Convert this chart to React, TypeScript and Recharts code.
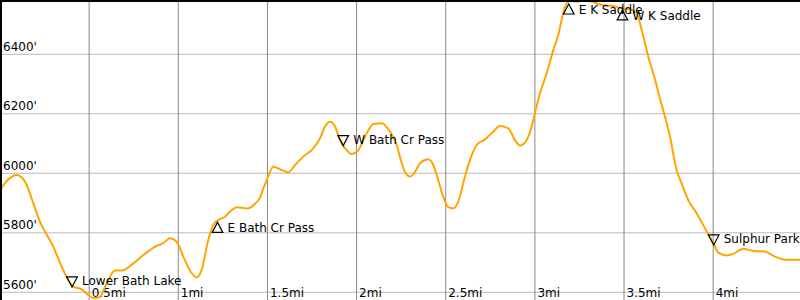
import { LineChart, Line, XAxis, YAxis, ReferenceLine, ReferenceDot } from "recharts";

// distance along trail (mi) and elevation (ft)
const miles = [
  0, 0.045, 0.094, 0.14, 0.187, 0.224, 0.252, 0.299, 0.346, 0.383, 0.411, 0.458, 0.495, 0.533,
  0.561, 0.598, 0.645, 0.683, 0.748, 0.804, 0.879, 0.916, 0.953, 0.991, 1.028, 1.075, 1.103,
  1.131, 1.168, 1.196, 1.224, 1.262, 1.29, 1.328, 1.384, 1.43, 1.458, 1.481, 1.496, 1.533, 1.58,
  1.617, 1.655, 1.701, 1.757, 1.795, 1.823, 1.851, 1.879, 1.907, 1.944, 1.972, 2.01, 2.047,
  2.094, 2.141, 2.187, 2.225, 2.243, 2.271, 2.3, 2.328, 2.356, 2.402, 2.43, 2.458, 2.486, 2.514,
  2.542, 2.57, 2.608, 2.636, 2.674, 2.72, 2.767, 2.804, 2.851, 2.888, 2.916, 2.954, 2.982, 3.001,
  3.029, 3.066, 3.103, 3.131, 3.15, 3.169, 3.197, 3.234, 3.271, 3.319, 3.375, 3.431, 3.487,
  3.543, 3.571, 3.599, 3.636, 3.674, 3.702, 3.73, 3.758, 3.795, 3.823, 3.86, 3.907, 3.964,
  4.001, 4.029, 4.076, 4.113, 4.169, 4.225, 4.29, 4.347, 4.412, 4.487,
];
const elevation = [
  5944, 5978, 5994, 5972, 5899, 5837, 5804, 5753, 5686, 5641, 5619, 5610, 5591, 5580,
  5585, 5630, 5673, 5673, 5697, 5725, 5756, 5765, 5782, 5770, 5720, 5664, 5650,
  5675, 5776, 5826, 5843, 5854, 5871, 5886, 5882, 5897, 5918, 5955, 5977, 6022, 6011,
  6003, 6028, 6056, 6084, 6118, 6157, 6173, 6157, 6112, 6078, 6065, 6078, 6123,
  6166, 6168, 6140, 6095, 6056, 6005, 5989, 6005, 6034, 6047, 6028, 5977, 5921, 5886,
  5882, 5905, 5989, 6045, 6095, 6114, 6140, 6159, 6151, 6112, 6093, 6112, 6157, 6205,
  6269, 6336, 6414, 6465, 6515, 6560, 6579, 6577, 6580, 6577, 6566, 6563, 6555,
  6549, 6538, 6482, 6392, 6314, 6250, 6190, 6123, 6011, 5966, 5910, 5866, 5804,
  5765, 5733, 5724, 5729, 5746, 5739, 5737, 5720, 5709, 5709,
];

const xTicks = [0.5, 1, 1.5, 2, 2.5, 3, 3.5, 4];
const xTickLabels = ["0.5mi", "1mi", "1.5mi", "2mi", "2.5mi", "3mi", "3.5mi", "4mi"];
const yTicks = [5600, 5800, 6000, 6200, 6400];
const yTickLabels = ["5600'", "5800'", "6000'", "6200'", "6400'"];

// waypoints
const markerNames = ["Lower Bath Lake", "E Bath Cr Pass", "W Bath Cr Pass", "E K Saddle", "W K Saddle", "Sulphur Park"];
const markerMiles = [0.404, 1.22, 1.925, 3.19, 3.491, 4.003];
const markerElev = [5618, 5835, 6093, 6569, 6549, 5759];
const markerDir = ["down", "up", "down", "up", "up", "down"];

const X_MAX = 4.487;
const Y_MIN = 5574;
const Y_MAX = 6582.5;
const FONT = "DejaVu Sans, sans-serif";

const data = miles.map((m, i) => ({ mi: m, ft: elevation[i] }));

function Marker({ cx, cy, name, dir }: any) {
  const up = dir === "up";
  const pts = up
    ? `${cx},${cy} ${cx - 5.3},${cy + 10} ${cx + 5.3},${cy + 10}`
    : `${cx - 5.3},${cy - 10} ${cx + 5.3},${cy - 10} ${cx},${cy}`;
  return (
    <g>
      <polygon points={pts} fill="none" stroke="#000" strokeWidth={1.2} />
      <text x={cx + 10} y={up ? cy + 10 : cy - 1.5} fontSize={12} fontFamily={FONT} fill="#000">
        {name}
      </text>
    </g>
  );
}

export default function App() {
  return (
    <div style={{ position: "absolute", top: 0, left: 0, width: 800, height: 300 }}>
      <LineChart width={800} height={300} data={data} margin={{ top: 0, right: 0, bottom: 0, left: 0 }}>
        <XAxis type="number" dataKey="mi" domain={[0, X_MAX]} hide allowDataOverflow />
        <YAxis type="number" domain={[Y_MIN, Y_MAX]} hide allowDataOverflow />

        {yTicks.map((t, i) => (
          <ReferenceLine
            key={"y" + t}
            y={t}
            stroke="#bbbbbb"
            strokeWidth={1}
            label={(p: any) => (
              <text x={3} y={p.viewBox.y - 3.5} fontSize={12} fontFamily={FONT} fill="#000">
                {yTickLabels[i]}
              </text>
            )}
          />
        ))}
        {xTicks.map((t, i) => (
          <ReferenceLine
            key={"x" + t}
            x={t}
            stroke="#888888"
            strokeWidth={1}
            label={(p: any) => (
              <text x={p.viewBox.x + 2.5} y={296.5} fontSize={12} fontFamily={FONT} fill="#000">
                {xTickLabels[i]}
              </text>
            )}
          />
        ))}

        <Line
          type="monotone"
          dataKey="ft"
          stroke="#ffa500"
          strokeWidth={2}
          dot={false}
          isAnimationActive={false}
        />

        {markerNames.map((n, i) => (
          <ReferenceDot
            key={n}
            x={markerMiles[i]}
            y={markerElev[i]}
            ifOverflow="visible"
            shape={(p: any) => <Marker cx={p.cx} cy={p.cy} name={n} dir={markerDir[i]} />}
          />
        ))}
      </LineChart>
      <div style={{ position: "absolute", left: 0, top: 0, width: 2, height: 300, background: "#000" }} />
      <div style={{ position: "absolute", left: 0, top: 0, width: 800, height: 1.5, background: "#000" }} />
    </div>
  );
}
